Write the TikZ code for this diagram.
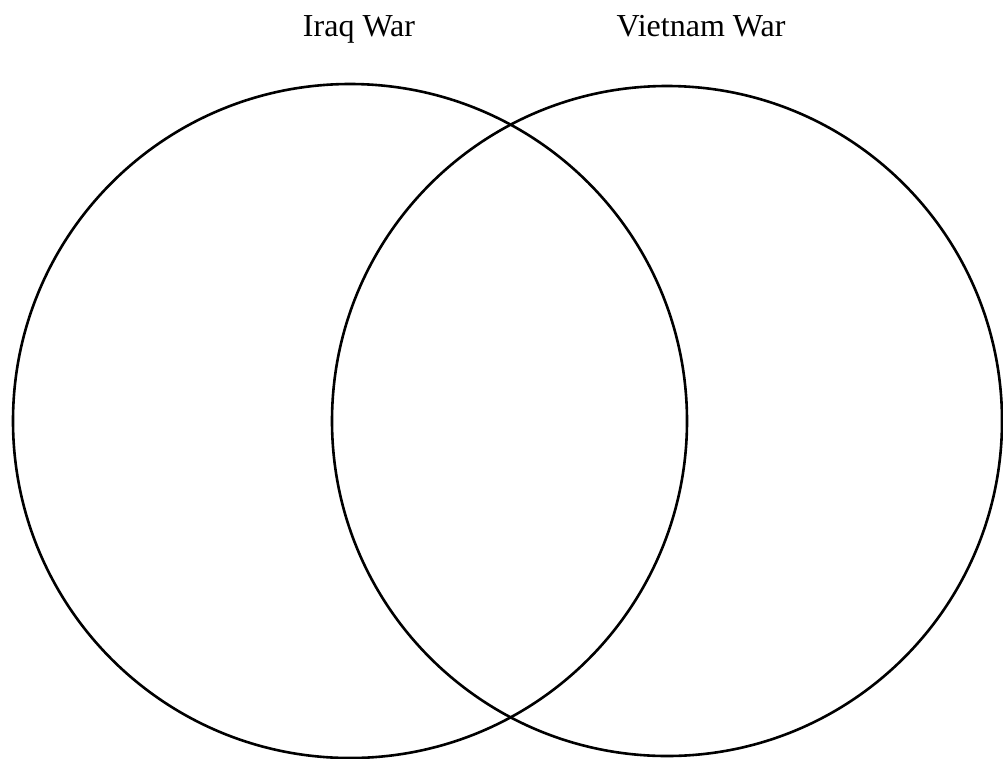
\documentclass[tikz,border=0pt]{standalone}
\usepackage{fontspec}
\setmainfont{Liberation Serif}
\begin{document}
\begin{tikzpicture}[x=1pt,y=-1pt,
  venn/.style={draw=black,line width=2.6pt,circle,inner sep=0pt},
  lbl/.style={font=\fontsize{32}{36}\selectfont,anchor=base,inner sep=0pt}]
\useasboundingbox[fill=white] (0,0) rectangle (1003,758);
\node[venn,minimum size=674pt] (iraq) at (350,421) {};
\node[venn,minimum size=670pt] (viet) at (667,421) {};
\node[lbl] (liraq) at (359,36.5) {Iraq War};
\node[lbl] (lviet) at (701,36.5) {Vietnam War};
\end{tikzpicture}
\end{document}
